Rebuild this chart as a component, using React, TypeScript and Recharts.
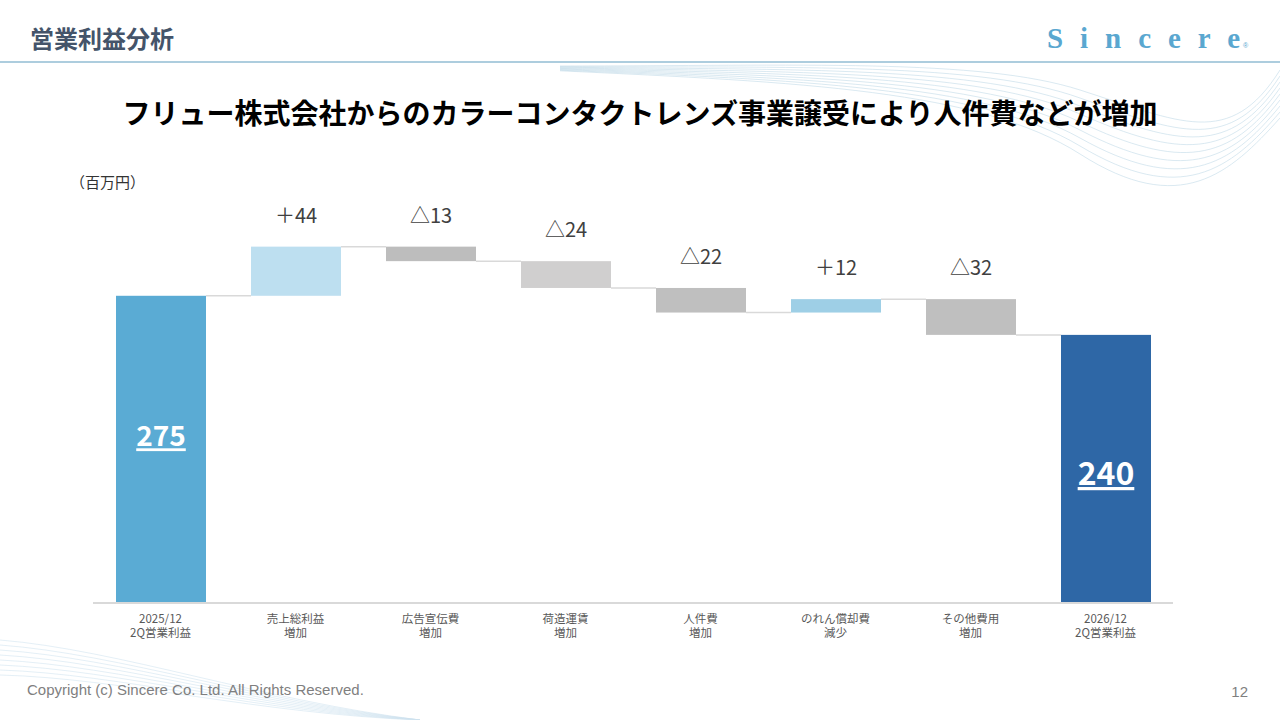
import React from 'react';
import { BarChart, Bar, XAxis, YAxis, Cell, LabelList } from 'recharts';

// 百万円
const CATEGORIES = [
  ['2025/12', '2Q営業利益'],
  ['売上総利益', '増加'],
  ['広告宣伝費', '増加'],
  ['荷造運賃', '増加'],
  ['人件費', '増加'],
  ['のれん償却費', '減少'],
  ['その他費用', '増加'],
  ['2026/12', '2Q営業利益'],
];
const START_VALUE = 275;
const DELTAS = [44, -13, -24, -22, 12, -32];
const END_VALUE = 240;
const DELTA_LABELS = ['＋44', '△13', '△24', '△22', '＋12', '△32'];

const BAR_COLORS = ['#5aabd4', '#bddff0', '#bdbdbd', '#d0cfcf', '#bfbfbf', '#9ecfe6', '#bfbfbf', '#2e67a6'];

const W = 1280;
const H = 720;
const AXIS_H = 30;
const M = { top: 212, right: 107, bottom: 117 - AXIS_H, left: 93 };
const STEP = (W - M.left - M.right) / CATEGORIES.length;
const JP = '"Noto Sans CJK JP", "Noto Sans", sans-serif';

type Row = { name: string; sub: string; base: number; value: number; kind: 'total' | 'up' | 'down'; label: string };

const rows: Row[] = [];
{
  let level = START_VALUE;
  rows.push({ name: CATEGORIES[0][0], sub: CATEGORIES[0][1], base: 0, value: START_VALUE, kind: 'total', label: String(START_VALUE) });
  DELTAS.forEach((d, i) => {
    const next = level + d;
    rows.push({
      name: CATEGORIES[i + 1][0], sub: CATEGORIES[i + 1][1],
      base: Math.min(level, next), value: Math.abs(d),
      kind: d >= 0 ? 'up' : 'down', label: DELTA_LABELS[i],
    });
    level = next;
  });
  const last = CATEGORIES.length - 1;
  rows.push({ name: CATEGORIES[last][0], sub: CATEGORIES[last][1], base: 0, value: END_VALUE, kind: 'total', label: String(END_VALUE) });
}

// bar + connector to the next bar at the running total
const StepBar = (p: any) => {
  const { x, y, width, height, fill, index } = p;
  const row = rows[index];
  const ly = row.kind === 'down' ? y + height : y;
  const isLast = index === rows.length - 1;
  return (
    <g>
      <rect x={x} y={y} width={width} height={height} fill={fill} />
      {!isLast && (
        <line x1={x + width} x2={x + STEP} y1={ly} y2={ly} stroke="#d9d9d9" strokeWidth={1.5} />
      )}
    </g>
  );
};

const TOTAL_FONT = [28, 32];
const TOTAL_SHIFT = [0.49, 0.56];

const BarLabel = (p: any) => {
  const { x, y, width, height, index } = p;
  const row = rows[index];
  const cx = x + width / 2;
  if (row.kind === 'total') {
    const k = index === 0 ? 0 : 1;
    return (
      <text x={cx} y={y + height * TOTAL_SHIFT[k]} textAnchor="middle" fill="#fff"
        fontFamily={JP} fontWeight={700} fontSize={TOTAL_FONT[k]} textDecoration="underline">
        {row.label}
      </text>
    );
  }
  return (
    <text x={cx} y={y - 24} textAnchor="middle" fill="#404040" fontFamily={JP} fontSize={20}>
      {row.label}
    </text>
  );
};

const CatTick = (p: any) => {
  const { x, y, payload } = p;
  const row = rows[payload.index] ?? rows.find((r) => r.name === payload.value);
  return (
    <g>
      <text x={x} y={y + 12} textAnchor="middle" fill="#595959" fontFamily={JP} fontSize={11.5}>{row?.name}</text>
      <text x={x} y={y + 26} textAnchor="middle" fill="#595959" fontFamily={JP} fontSize={11.5}>{row?.sub}</text>
    </g>
  );
};

function Waves() {
  const top = Array.from({ length: 9 }).map((_, i) => (
    <path key={'t' + i}
      d={`M 560 ${66 + i * 0.6} C 800 ${66 + i * 2}, 980 ${58 + i * 4}, 1080 ${90 + i * 8} S 1230 ${150 + i * 3}, 1280 ${70 + i * 6}`}
      fill="none" stroke="#bcd8e6" strokeWidth={0.8} opacity={0.7} />
  ));
  const bottom = Array.from({ length: 8 }).map((_, i) => (
    <path key={'b' + i}
      d={`M 0 ${640 + i * 5} C 120 ${650 + i * 4}, 260 ${700 + i * 2}, 420 ${720}`}
      fill="none" stroke="#cfe3ee" strokeWidth={0.8} opacity={0.7} />
  ));
  return <g>{top}{bottom}</g>;
}

export default function App() {
  return (
    <div style={{ position: 'absolute', left: 0, top: 0, width: W, height: H, background: '#fff', overflow: 'hidden' }}>
      <svg width={W} height={H} style={{ position: 'absolute', left: 0, top: 0 }}>
        <Waves />
        <text x={30} y={48} fill="#44546a" fontFamily={JP} fontWeight={700} fontSize={24}>営業利益分析</text>
        <text x={1047} y={48} fill="#5aa7d0" fontFamily='"Liberation Serif", serif' fontWeight={700} fontSize={29}
          textLength={193} lengthAdjust="spacing">Sincere</text>
        <text x={1243} y={48} fill="#5aa7d0" fontFamily="sans-serif" fontSize={7}>®</text>
        <line x1={0} x2={W} y1={62} y2={62} stroke="#92bcd3" strokeWidth={1.5} />
        <text x={640} y={124} textAnchor="middle" fill="#000" fontFamily={JP} fontWeight={700} fontSize={28}>
          フリュー株式会社からのカラーコンタクトレンズ事業譲受により人件費などが増加
        </text>
        <text x={70} y={188} fill="#333" fontFamily={JP} fontSize={15}>（百万円）</text>
        <text x={27} y={695} fill="#7f7f7f" fontFamily='"Liberation Sans", Arial, sans-serif' fontSize={15}>Copyright (c) Sincere Co. Ltd. All Rights Reserved.</text>
        <text x={1248} y={697} fill="#7f7f7f" fontFamily='"Liberation Sans", Arial, sans-serif' fontSize={15} textAnchor="end">12</text>
      </svg>
      <div style={{ position: 'absolute', left: 0, top: 0 }}>
        <BarChart width={W} height={H} data={rows} margin={M} barCategoryGap={0} barSize={90}>
          <XAxis dataKey="name" height={AXIS_H} axisLine={{ stroke: '#d9d9d9', strokeWidth: 2 }} tickLine={false}
            interval={0} tick={<CatTick />} />
          <YAxis hide domain={[0, 350]} />
          <Bar dataKey="base" stackId="w" fill="transparent" isAnimationActive={false} />
          <Bar dataKey="value" stackId="w" isAnimationActive={false} shape={<StepBar />}>
            {rows.map((r, i) => <Cell key={i} fill={BAR_COLORS[i]} />)}
            <LabelList dataKey="value" content={<BarLabel />} />
          </Bar>
        </BarChart>
      </div>
    </div>
  );
}
